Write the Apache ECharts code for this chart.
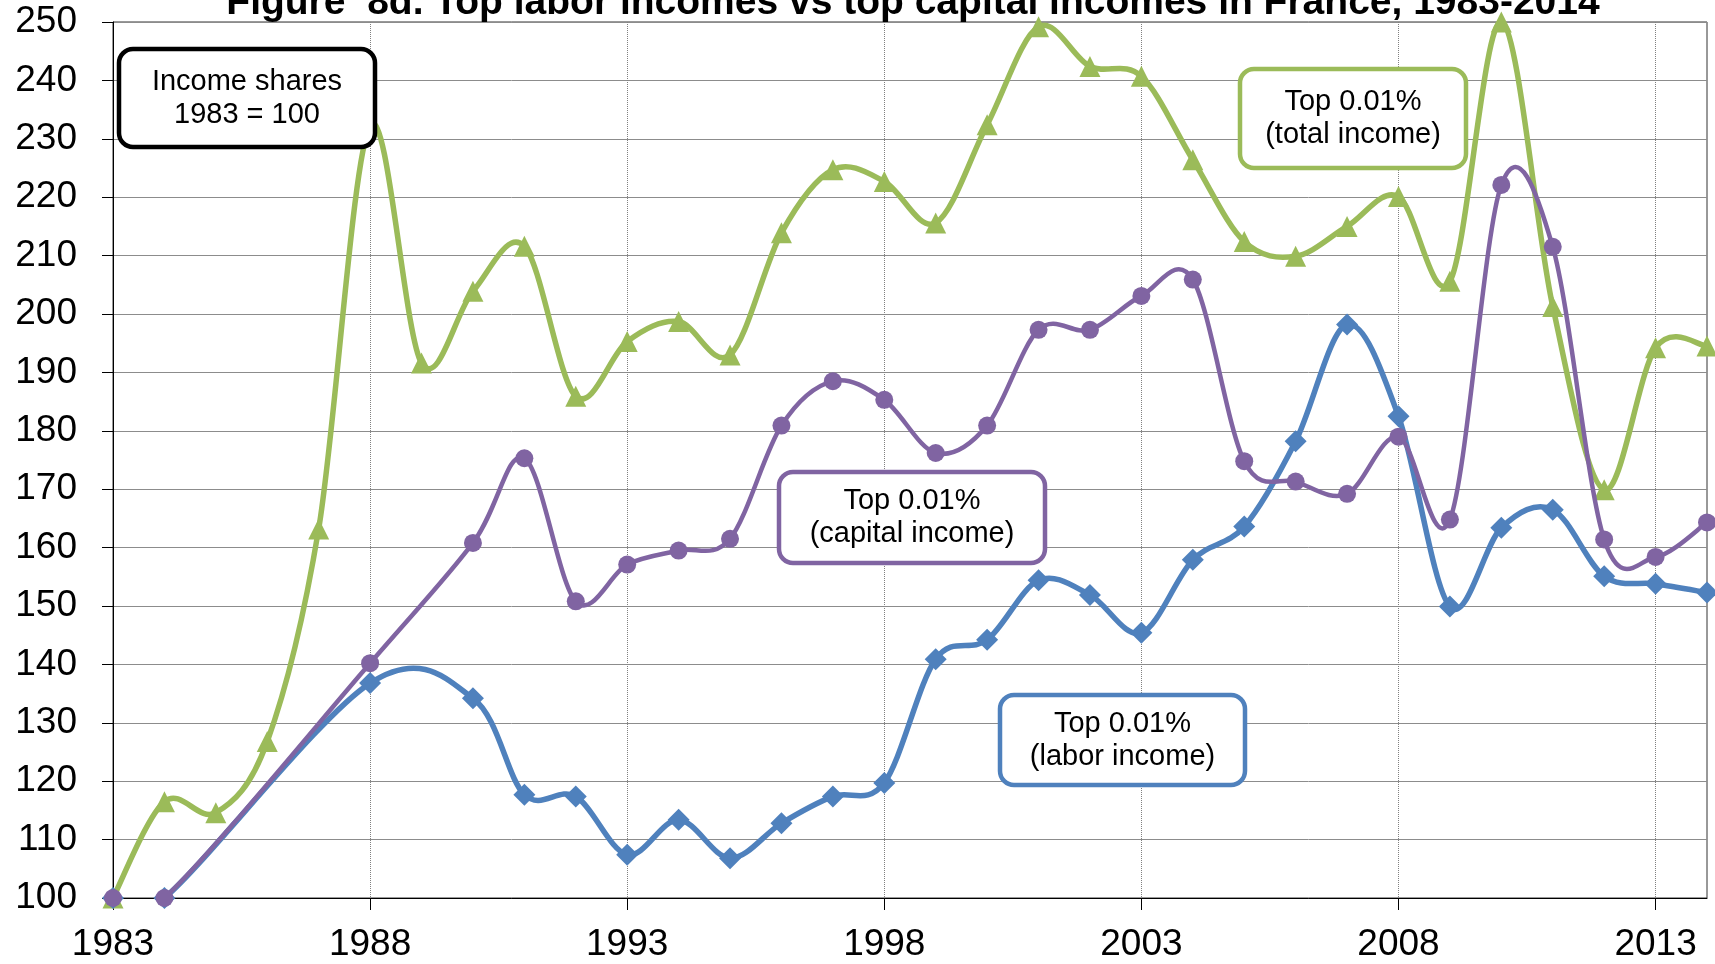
<!DOCTYPE html>
<html>
<head>
<meta charset="utf-8">
<script src="https://cdn.jsdelivr.net/npm/echarts@6/dist/echarts.min.js"></script>
<style>
html,body{margin:0;padding:0;background:#fff;}
#chart{width:1715px;height:964px;}
</style>
</head>
<body>
<div id="chart"></div>
<script>
var years = ['1983','1984','1985','1986','1987','1988','1989','1990','1991','1992','1993','1994','1995','1996','1997','1998','1999','2000','2001','2002','2003','2004','2005','2006','2007','2008','2009','2010','2011','2012','2013','2014'];
var totalIncome = [100,116.5,114.6,126.8,163.2,232.2,191.6,203.9,211.6,185.9,195.3,198.7,193.0,213.9,224.7,222.7,215.6,232.4,249.2,242.4,240.7,226.4,212.4,209.9,215.0,220.1,205.6,250,201.3,169.9,194.2,194.5];
var capitalIncome = [100,100,null,null,null,140.2,null,160.8,175.3,150.8,157.1,159.5,161.5,180.9,188.5,185.3,176.2,180.9,197.3,197.3,203.1,205.9,174.8,171.3,169.2,179.0,164.8,222.1,211.5,161.4,158.4,164.3];
var laborIncome = [100,100,null,null,null,136.8,null,134.2,117.7,117.4,107.4,113.4,106.8,112.8,117.4,119.7,140.9,144.2,154.4,151.9,145.4,157.9,163.6,178.2,198.2,182.5,149.9,163.4,166.5,155.1,153.8,152.3];
var titleText = 'Figure  8d. Top labor incomes vs top capital incomes in France, 1983-2014';
var notes = [
  {text: 'Income shares\n1983 = 100', color: '#000000'},
  {text: 'Top 0.01%\n(total income)', color: '#9BBB59'},
  {text: 'Top 0.01%\n(capital income)', color: '#8064A2'},
  {text: 'Top 0.01%\n(labor income)', color: '#4F81BD'}
];

var FONT = '"Liberation Sans", Arial, sans-serif';
var chart = echarts.init(document.getElementById('chart'), null, {renderer: 'canvas'});

function box(note, x, y, w, h) {
  return {
    type: 'group', z: 100,
    children: [
      {type: 'rect', z: 100, shape: {x: x, y: y, width: w, height: h, r: 14},
       style: {fill: '#ffffff', stroke: note.color, lineWidth: 4.5}},
      {type: 'text', z: 101, x: x + w / 2, y: y + h / 2,
       style: {text: note.text, fill: '#000', font: '29px ' + FONT, lineHeight: 33,
               textAlign: 'center', textVerticalAlign: 'middle', align: 'center', verticalAlign: 'middle'}}
    ]
  };
}

// non-null points of a series as [categoryIndex, value]
function points(arr) {
  var out = [];
  for (var i = 0; i < arr.length; i++) if (arr[i] != null) out.push([i, arr[i]]);
  return out;
}

// Excel-like smoothed curve (Catmull-Rom in pixel space) drawn through the axes
function curveSeries(arr, color, width, z) {
  var pts = points(arr);
  return {
    type: 'custom', data: pts, clip: true, z: z, silent: true,
    encode: {x: 0, y: 1},
    renderItem: function (params, api) {
      var i = params.dataIndex;
      if (i >= pts.length - 1) return null;
      var c = function (k) { k = Math.max(0, Math.min(pts.length - 1, k)); return api.coord(pts[k]); };
      var p0 = c(i - 1), p1 = c(i), p2 = c(i + 1), p3 = c(i + 2);
      var t = 1 / 6;
      return {
        type: 'bezierCurve',
        shape: {
          x1: p1[0], y1: p1[1], x2: p2[0], y2: p2[1],
          cpx1: p1[0] + (p2[0] - p0[0]) * t, cpy1: p1[1] + (p2[1] - p0[1]) * t,
          cpx2: p2[0] - (p3[0] - p1[0]) * t, cpy2: p2[1] - (p3[1] - p1[1]) * t
        },
        style: {stroke: color, lineWidth: width, fill: null, lineCap: 'round'}
      };
    }
  };
}

function markerSeries(name, arr, symbol, size, color, z) {
  return {
    name: name, type: 'line', data: arr, connectNulls: true, showAllSymbol: true,
    symbol: symbol, symbolSize: size, color: color,
    lineStyle: {opacity: 0, width: 0}, itemStyle: {color: color}, z: z
  };
}

var GREEN = '#9BBB59', BLUE = '#4F81BD', PURPLE = '#8064A2';

var option = {
  backgroundColor: '#ffffff',
  animation: false,
  title: {
    text: titleText, left: 908, textAlign: 'center', top: -21,
    textStyle: {fontFamily: FONT, fontSize: 39, fontWeight: 'bold', color: '#000'}
  },
  grid: {left: 113, right: 8, top: 22, bottom: 66, show: true, borderColor: '#333', borderWidth: 1, containLabel: false},
  xAxis: {
    type: 'category', data: years, boundaryGap: false,
    axisLine: {lineStyle: {color: '#000', width: 1}},
    axisTick: {show: true, interval: 4, length: 12, lineStyle: {color: '#000'}},
    axisLabel: {interval: 4, margin: 28, fontFamily: FONT, fontSize: 37, color: '#000'},
    splitLine: {show: true, interval: 4, lineStyle: {color: '#808080', type: 'dotted', width: 1}}
  },
  yAxis: {
    type: 'value', min: 100, max: 250, interval: 10,
    axisLine: {show: true, lineStyle: {color: '#000', width: 1}},
    axisTick: {show: true, length: 11, lineStyle: {color: '#000'}},
    axisLabel: {margin: 36, fontFamily: FONT, fontSize: 37, color: '#000'},
    splitLine: {show: true, lineStyle: {color: '#8c8c8c', width: 1}}
  },
  series: [
    curveSeries(totalIncome, GREEN, 5.5, 2),
    markerSeries('Top 0.01% (total income)', totalIncome, 'triangle', 21, GREEN, 3),
    curveSeries(laborIncome, BLUE, 5.5, 4),
    markerSeries('Top 0.01% (labor income)', laborIncome, 'diamond', 22, BLUE, 5),
    curveSeries(capitalIncome, PURPLE, 4.5, 6),
    markerSeries('Top 0.01% (capital income)', capitalIncome, 'circle', 18, PURPLE, 7)
  ],
  graphic: [
    box(notes[0], 119, 49, 256, 98),
    box(notes[1], 1240, 69, 226, 99),
    box(notes[2], 779, 472, 266, 91),
    box(notes[3], 1000, 695, 245, 90)
  ]
};
chart.setOption(option);
</script>
</body>
</html>
